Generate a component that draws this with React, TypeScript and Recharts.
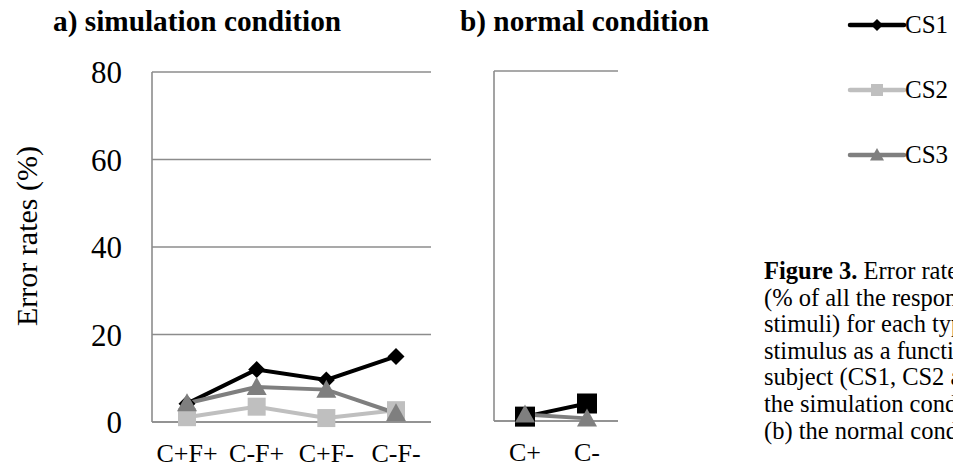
import React from 'react';
import { LineChart, Line, XAxis, YAxis, CartesianGrid } from 'recharts';

// Error rates (%) per stimulus type and subject
const simCategories = ['C+F+', 'C-F+', 'C+F-', 'C-F-'];
const simCS1 = [4.2, 12, 9.6, 15];
const simCS2 = [1.1, 3.5, 0.9, 2.7];
const simCS3 = [4.3, 8, 7.4, 2];

const normCategories = ['C+', 'C-'];
const normCS1 = [1.0, 4.0];
const normCS3 = [1.5, 0.6];

const yTicks = [0, 20, 40, 60, 80];
const seriesNames = ['CS1', 'CS2', 'CS3'];
const seriesColors = ['#000000', '#bfbfbf', '#7f7f7f'];

const captionLines = [
  'Error rates',
  '(% of all the responses to',
  'stimuli) for each type of',
  'stimulus as a function of',
  'subject (CS1, CS2 and CS3) in (a)',
  'the simulation condition and',
  '(b) the normal condition.',
];

const simData = simCategories.map((c, i) => ({ cat: c, CS1: simCS1[i], CS2: simCS2[i], CS3: simCS3[i] }));
const normData = normCategories.map((c, i) => ({ cat: c, CS1: normCS1[i], CS3: normCS3[i] }));

const FONT = '"Liberation Serif", "Times New Roman", serif';
const GRID = '#8c8c8c';

const Diamond = ({ cx, cy, r, fill }: any) => (
  <polygon points={`${cx},${cy - r} ${cx + r},${cy} ${cx},${cy + r} ${cx - r},${cy}`} fill={fill} />
);
const Square = ({ cx, cy, r, fill }: any) => (
  <rect x={cx - r} y={cy - r} width={2 * r} height={2 * r} fill={fill} />
);
const Triangle = ({ cx, cy, r, fill }: any) => (
  <polygon points={`${cx},${cy - r} ${cx + r},${cy + r * 0.8} ${cx - r},${cy + r * 0.8}`} fill={fill} />
);

const dotOf = (Shape: any, r: number, fill: string) => (p: any) =>
  p.cx == null || p.cy == null ? <g key={p.index} /> : <Shape key={p.index} cx={p.cx} cy={p.cy} r={r} fill={fill} />;

const tickStyleX = { fontFamily: FONT, fontSize: 26, fill: '#000' };
const tickStyleY = { fontFamily: FONT, fontSize: 31, fill: '#000' };

const YLabel = () => (
  <text
    x={37}
    y={236}
    transform="rotate(-90 37 236)"
    textAnchor="middle"
    style={{ fontFamily: FONT, fontSize: 30, fill: '#000' }}
  >
    Error rates (%)
  </text>
);

export default function App() {
  return (
    <div
      style={{
        position: 'absolute',
        left: 0,
        top: 0,
        width: 953,
        height: 470,
        overflow: 'hidden',
        background: '#fff',
        fontFamily: FONT,
      }}
    >
      <div style={{ position: 'absolute', left: 53, top: 5, fontSize: 29.3, fontWeight: 'bold', whiteSpace: 'nowrap' }}>
        a) simulation condition
      </div>
      <div style={{ position: 'absolute', left: 460, top: 5, fontSize: 29.3, fontWeight: 'bold', whiteSpace: 'nowrap' }}>
        b) normal condition
      </div>

      <div style={{ position: 'absolute', left: 0, top: 0 }}>
        <LineChart width={440} height={470} data={simData} margin={{ top: 72, right: 9, bottom: 18, left: 0 }}>
          <CartesianGrid vertical={false} stroke={GRID} strokeWidth={1.6} />
          <XAxis
            dataKey="cat"
            height={30}
            padding={{ left: 35, right: 35 }}
            tickLine={false}
            tickSize={0}
            tickMargin={22}
            axisLine={{ stroke: GRID, strokeWidth: 1.6 }}
            tick={tickStyleX}
            interval={0}
          />
          <YAxis
            width={152}
            domain={[0, 80]}
            ticks={yTicks}
            tickLine={false}
            tickSize={0}
            tickMargin={30}
            axisLine={{ stroke: GRID, strokeWidth: 1.6 }}
            tick={tickStyleY}
            label={<YLabel />}
          />
          <Line dataKey="CS1" stroke={seriesColors[0]} strokeWidth={4} dot={dotOf(Diamond, 8.5, seriesColors[0])} isAnimationActive={false} />
          <Line dataKey="CS2" stroke={seriesColors[1]} strokeWidth={4} dot={dotOf(Square, 9, seriesColors[1])} isAnimationActive={false} />
          <Line dataKey="CS3" stroke={seriesColors[2]} strokeWidth={4} dot={dotOf(Triangle, 10, seriesColors[2])} isAnimationActive={false} />
        </LineChart>
      </div>

      <div style={{ position: 'absolute', left: 440, top: 0 }}>
        <LineChart width={190} height={470} data={normData} margin={{ top: 71, right: 12, bottom: 19, left: 0 }}>
          <CartesianGrid vertical={false} stroke={GRID} strokeWidth={1.6} />
          <XAxis
            dataKey="cat"
            height={30}
            padding={{ left: 31, right: 31 }}
            tickLine={false}
            tickSize={0}
            tickMargin={22}
            axisLine={{ stroke: GRID, strokeWidth: 1.6 }}
            tick={tickStyleX}
            interval={0}
          />
          <YAxis
            width={54}
            domain={[0, 80]}
            ticks={yTicks}
            tickLine={false}
            tick={false}
            axisLine={{ stroke: GRID, strokeWidth: 1.6 }}
          />
          <Line dataKey="CS1" stroke={seriesColors[0]} strokeWidth={4} dot={dotOf(Square, 10, seriesColors[0])} isAnimationActive={false} />
          <Line dataKey="CS3" stroke={seriesColors[2]} strokeWidth={4} dot={dotOf(Triangle, 10, seriesColors[2])} isAnimationActive={false} />
        </LineChart>
      </div>

      <svg style={{ position: 'absolute', left: 840, top: 0 }} width={113} height={190}>
        {seriesNames.map((name, i) => {
          const y = 25 + i * 65;
          const Shape = [Diamond, Square, Triangle][i];
          const r = [6, 6, 7][i];
          return (
            <g key={name}>
              <line x1={10} x2={64} y1={y} y2={y} stroke={seriesColors[i]} strokeWidth={4.5} strokeLinecap="round" />
              <Shape cx={37} cy={y} r={r} fill={seriesColors[i]} />
              <text x={65} y={y + 8} style={{ fontFamily: FONT, fontSize: 25, fill: '#000' }}>
                {name}
              </text>
            </g>
          );
        })}
      </svg>

      <div
        style={{
          position: 'absolute',
          left: 764,
          top: 258,
          fontSize: 24.5,
          lineHeight: '26.6px',
          whiteSpace: 'nowrap',
          color: '#000',
        }}
      >
        {captionLines.map((line, i) => (
          <div key={i}>
            {i === 0 ? <b>Figure 3.</b> : null}
            {i === 0 ? ' ' : null}
            {line}
          </div>
        ))}
      </div>
    </div>
  );
}
